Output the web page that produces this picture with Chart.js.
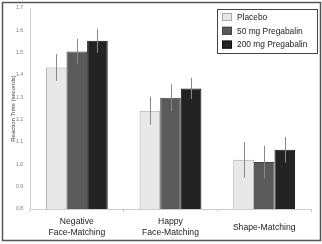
<!DOCTYPE html>
<html lang="en">
<head>
<meta charset="UTF-8">
<title>Reaction Time</title>
<script src="https://cdn.jsdelivr.net/npm/chart.js"></script>
<style>
  body { margin: 0; background: #fff; }
</style>
</head>
<body>
<canvas id="myChart" width="322" height="244"></canvas>
<script>
// data
const categories = [['Negative', 'Face-Matching'], ['Happy', 'Face-Matching'], 'Shape-Matching'];
const seriesNames = ['Placebo', '50 mg Pregabalin', '200 mg Pregabalin'];
const placebo = [1.434, 1.240, 1.020];
const mg50 = [1.505, 1.298, 1.010];
const mg200 = [1.553, 1.340, 1.065];
const placeboErr = [0.060, 0.063, 0.080];
const mg50Err = [0.056, 0.060, 0.073];
const mg200Err = [0.054, 0.047, 0.057];

const fills = ['#e8e8e8', '#5a5a5a', '#232323'];
const edges = ['#a8a8a8', '#444444', '#111111'];
const values = [placebo, mg50, mg200];
const errors = [placeboErr, mg50Err, mg200Err];

const datasets = seriesNames.map((name, i) => ({
    label: name,
    data: values[i],
    err: errors[i],
    backgroundColor: fills[i],
    borderColor: edges[i],
    borderWidth: 1,
    categoryPercentage: 0.66,
    barPercentage: 1.0
}));

// white page with a frame round it
const framePlugin = {
    id: 'frame',
    beforeDraw(chart) {
        const ctx = chart.ctx;
        ctx.save();
        ctx.fillStyle = '#fff';
        ctx.fillRect(0, 0, chart.width, chart.height);
        ctx.strokeStyle = '#555';
        ctx.lineWidth = 1.5;
        ctx.strokeRect(2.5, 2.5, 318, 238);
        ctx.restore();
    }
};

const errorBarPlugin = {
    id: 'errorBars',
    afterDatasetsDraw(chart) {
        const ctx = chart.ctx;
        const y = chart.scales.y;
        ctx.save();
        ctx.strokeStyle = '#888';
        ctx.lineWidth = 1;
        chart.data.datasets.forEach((ds, i) => {
            chart.getDatasetMeta(i).data.forEach((bar, j) => {
                const x = Math.round(bar.x) + 0.5;
                ctx.beginPath();
                ctx.moveTo(x, y.getPixelForValue(ds.data[j] + ds.err[j]));
                ctx.lineTo(x, y.getPixelForValue(ds.data[j] - ds.err[j]));
                ctx.stroke();
            });
        });
        ctx.restore();
    }
};

const legendPlugin = {
    id: 'boxLegend',
    afterDraw(chart) {
        const ctx = chart.ctx;
        ctx.save();
        ctx.fillStyle = '#fff';
        ctx.fillRect(217, 9, 100, 44);
        ctx.strokeStyle = '#444';
        ctx.lineWidth = 1;
        ctx.strokeRect(217.5, 9.5, 100, 44);
        ctx.font = '8.4px "Liberation Sans", Arial, sans-serif';
        ctx.textBaseline = 'middle';
        chart.data.datasets.forEach((ds, i) => {
            const cy = 17 + i * 13.8;
            ctx.fillStyle = ds.backgroundColor;
            ctx.fillRect(222, cy - 4, 10, 8);
            ctx.strokeStyle = ds.borderColor;
            ctx.strokeRect(222.5, cy - 3.5, 9, 7);
            ctx.fillStyle = '#222';
            ctx.fillText(ds.label, 237, cy + 0.5);
        });
        ctx.restore();
    }
};

new Chart(document.getElementById('myChart').getContext('2d'), {
    type: 'bar',
    data: { labels: categories, datasets: datasets },
    plugins: [framePlugin, errorBarPlugin, legendPlugin],
    options: {
        responsive: false,
        animation: false,
        layout: { padding: { left: 0, right: 11, top: 6, bottom: 0 } },
        plugins: { legend: { display: false }, tooltip: { enabled: false } },
        scales: {
            x: {
                grid: { display: true, drawOnChartArea: false, color: '#ccc', tickLength: 3 },
                border: { color: '#ccc' },
                ticks: {
                    color: '#222',
                    crossAlign: 'center',
                    padding: 10,
                    font: { family: '"Liberation Sans", Arial, sans-serif', size: 8.6, lineHeight: 1.28 }
                },
                afterFit(s) { s.height = 35; }
            },
            y: {
                min: 0.8,
                max: 1.7,
                grid: { display: false, tickLength: 2 },
                border: { color: '#ccc' },
                ticks: {
                    stepSize: 0.1,
                    color: '#777',
                    padding: 5,
                    font: { family: '"Liberation Sans", Arial, sans-serif', size: 5 }
                },
                title: {
                    display: true,
                    text: 'Reaction Time (seconds)',
                    color: '#444',
                    padding: { top: 10, bottom: 0 },
                    font: { family: '"Liberation Sans", Arial, sans-serif', size: 6 }
                },
                afterFit(s) { s.width = 30; }
            }
        }
    }
});
</script>
</body>
</html>
